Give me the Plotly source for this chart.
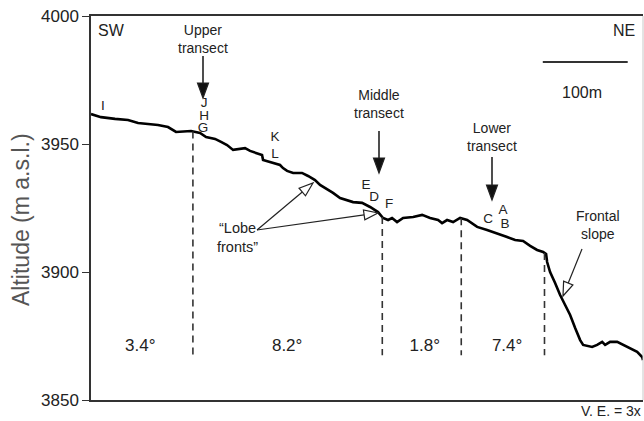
import plotly.graph_objects as go
import numpy as np

# ---- data (distance along profile in m, altitude in m a.s.l.) ----
distance_m = [0, 11.8, 28.3, 43.6, 55.4, 64.8, 70.7, 78.9, 90.7, 100.1, 117.8, 122.5, 128.4,
              135.5, 146.1, 153.1, 160.2, 167.3, 175.5, 181.4, 187.3, 195.5, 201.4, 202.6,
              210.8, 216.7, 222.6, 226.1, 230.9, 238.0, 248.5, 255.6, 263.8, 269.7, 278.0,
              285.0, 293.3, 301.5, 308.6, 319.2, 328.6, 338.0, 343.9, 349.8, 354.5, 360.4,
              367.5, 379.3, 389.9, 399.3, 408.7, 413.4, 419.3, 426.4, 434.6, 442.9, 454.7,
              466.4, 481.7, 490.0, 499.4, 508.8, 517.1, 525.3, 532.4, 535.9, 537.1, 540.6,
              546.5, 552.4, 558.3, 564.2, 570.1, 576.0, 579.5, 590.1, 596.0, 601.9, 605.4,
              611.3, 619.6, 626.6, 637.2, 643.1, 649.0, 650.0]
altitude_m = [3961.7, 3960.5, 3959.8, 3959.4, 3958.2, 3957.8, 3957.8, 3957.4, 3956.6, 3954.7,
              3955.1, 3954.7, 3954.3, 3952.7, 3952.0, 3950.8, 3949.6, 3947.7, 3948.0, 3948.4,
              3947.3, 3946.5, 3945.7, 3943.8, 3943.0, 3942.6, 3941.8, 3940.6, 3939.5, 3938.7,
              3938.7, 3937.5, 3935.9, 3934.0, 3932.4, 3930.9, 3928.9, 3928.1, 3927.3, 3927.0,
              3925.4, 3923.4, 3921.1, 3920.3, 3921.1, 3919.5, 3921.1, 3921.5, 3922.3, 3921.1,
              3920.3, 3919.1, 3920.3, 3919.5, 3921.1, 3920.3, 3917.6, 3916.4, 3914.8, 3913.7,
              3912.5, 3912.1, 3910.2, 3908.6, 3907.8, 3907.0, 3903.9, 3900.0, 3895.7, 3891.0,
              3887.1, 3883.2, 3878.1, 3873.4, 3871.5, 3870.7, 3871.5, 3872.7, 3871.5, 3872.7,
              3872.7, 3871.5, 3869.5, 3868.8, 3866.8, 3865.6]

boundary_x = [120, 343, 436, 534]
boundary_bottom = 3867.5
slope_labels = ["3.4°", "8.2°", "1.8°", "7.4°"]
slope_label_x = [58, 231, 393, 490]
slope_label_y = 3870.8
y_ticks = [3850, 3900, 3950, 4000]
x_range = [0, 650]
y_range = [3850, 4000]
scale_bar_m = [532, 632]

point_labels = ["I", "J", "H", "G", "K", "L", "E", "D", "F", "A", "C", "B"]
point_px = [(103, 107), (204, 104), (204, 117), (203, 129), (275, 138), (275, 155),
            (366, 186), (374, 198), (389, 205), (503, 211), (488, 220), (505, 225)]

# ---- layout helpers (pixel -> data) ----
L, R, T, B = 91, 643, 16, 400
def X(px):
    return (px - L) / (R - L) * (x_range[1] - x_range[0]) + x_range[0]
def Y(py):
    return y_range[1] - (py - T) / (B - T) * (y_range[1] - y_range[0])

FONT = "Arial, Liberation Sans, sans-serif"
TXT = "#222222"

fig = go.Figure()
fig.add_trace(go.Scatter(x=distance_m, y=altitude_m, mode="lines",
                         line=dict(color="black", width=2.6), hoverinfo="skip"))

tops = np.interp(boundary_x, distance_m, altitude_m)
for bx, top in zip(boundary_x, tops):
    fig.add_trace(go.Scatter(x=[bx, bx], y=[top, boundary_bottom], mode="lines",
                             line=dict(color="#333", width=1.6, dash="7px,5px"),
                             hoverinfo="skip"))

fig.add_trace(go.Scatter(x=slope_label_x, y=[slope_label_y] * len(slope_label_x), mode="text",
                         text=slope_labels, textfont=dict(size=17, color=TXT, family=FONT),
                         hoverinfo="skip"))

fig.add_trace(go.Scatter(x=[X(p[0]) for p in point_px], y=[Y(p[1]) for p in point_px],
                         mode="text", text=point_labels,
                         textfont=dict(size=13.5, color=TXT, family=FONT), hoverinfo="skip"))

shapes = []
annotations = []

def tri_path(tip, frm, length=14, half=5):
    tx, ty = tip
    fx, fy = frm
    d = np.array([tx - fx, ty - fy], dtype=float)
    d /= np.linalg.norm(d)
    n = np.array([-d[1], d[0]])
    bx, by = tx - d[0] * length, ty - d[1] * length
    p1 = (bx + n[0] * half, by + n[1] * half)
    p2 = (bx - n[0] * half, by - n[1] * half)
    path = "M {},{} L {},{} L {},{} Z".format(X(tx), Y(ty), X(p1[0]), Y(p1[1]), X(p2[0]), Y(p2[1]))
    return path, (bx, by)

def arrow(frm, tip, filled, width=1.4, length=14, half=5):
    path, base = tri_path(tip, frm, length, half)
    shapes.append(dict(type="line", xref="x", yref="y", x0=X(frm[0]), y0=Y(frm[1]),
                       x1=X(base[0]), y1=Y(base[1]), line=dict(color="#222", width=width)))
    shapes.append(dict(type="path", xref="x", yref="y", path=path,
                       fillcolor="#111" if filled else "white",
                       line=dict(color="#222", width=1.2)))

# transect arrows
arrow((203, 56), (203, 98), True, width=1.6, length=15, half=5.5)
arrow((379, 131), (379, 173), True, width=1.6, length=15, half=5.5)
arrow((492, 157), (492, 200), True, width=1.6, length=15, half=5.5)
# lobe fronts & frontal slope arrows
arrow((257, 230), (313, 183), False, width=1.2, length=14, half=5)
arrow((257, 230), (378, 213), False, width=1.2, length=14, half=5)
arrow((582, 249), (563, 296), False, width=1.2, length=14, half=5)

# scale bar
shapes.append(dict(type="line", xref="x", yref="y", x0=scale_bar_m[0], x1=scale_bar_m[1],
                   y0=Y(62), y1=Y(62), line=dict(color="#333", width=2)))
# faint right frame
shapes.append(dict(type="line", xref="paper", yref="paper", x0=1, x1=1, y0=0, y1=1,
                   line=dict(color="#c8c8c8", width=1)))

def txt(text, px, py, size=14, xanchor="center", color=TXT):
    annotations.append(dict(text=text, x=X(px), y=Y(py), xref="x", yref="y", showarrow=False,
                            xanchor=xanchor, yanchor="middle",
                            font=dict(size=size, color=color, family=FONT)))

txt("SW", 96, 30, size=16, xanchor="left")
txt("NE", 624, 30, size=16)
txt("Upper<br>transect", 203, 39, size=14)
txt("Middle<br>transect", 379, 104, size=14)
txt("Lower<br>transect", 492, 137, size=14)
txt("Frontal<br>slope", 598, 225, size=14)
txt("“Lobe<br>fronts”", 237, 237, size=14.5)
txt("100m", 582, 92, size=16)

annotations.append(dict(text="V. E. = 3x", x=1.0, y=-0.029, xref="paper", yref="paper",
                        showarrow=False, xanchor="right", yanchor="middle",
                        font=dict(size=14, color=TXT, family=FONT)))
annotations.append(dict(text="Altitude (m a.s.l.)", x=(21 - L) / (R - L), y=(B - 220) / (B - T),
                        xref="paper", yref="paper", showarrow=False, textangle=-90,
                        xanchor="center", yanchor="middle",
                        font=dict(size=23, color="#555", family=FONT)))

fig.update_layout(
    width=644, height=421,
    margin=dict(l=L, r=644 - R, t=T, b=421 - B),
    paper_bgcolor="white", plot_bgcolor="white",
    showlegend=False,
    shapes=shapes, annotations=annotations,
    font=dict(family=FONT, color=TXT),
)
fig.update_xaxes(range=x_range, showgrid=False, zeroline=False, showticklabels=False,
                 ticks="", showline=True, linecolor="#333", linewidth=1.5, mirror=True)
fig.update_yaxes(range=y_range, tickvals=y_ticks, showgrid=False, zeroline=False,
                 ticks="outside", ticklen=7, tickcolor="#333", tickwidth=1.2,
                 showline=True, linecolor="#333", linewidth=1.5,
                 tickfont=dict(size=17, color=TXT, family=FONT))

fig.write_html("out.html", config={"displayModeBar": False},
               post_script="document.body.style.margin='0';document.body.style.overflow='hidden';")
